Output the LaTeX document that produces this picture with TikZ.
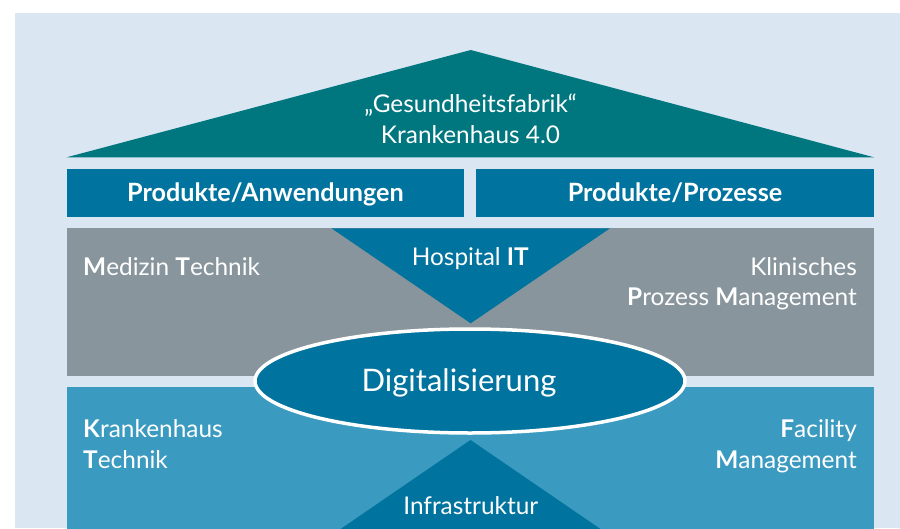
\documentclass[tikz,border=0pt]{standalone}
\usepackage{fontspec}
\setmainfont{Lato}
\usetikzlibrary{shapes.geometric}
\definecolor{bg}{HTML}{DAE7F2}
\definecolor{roof}{HTML}{00767F}
\definecolor{bar}{HTML}{00739E}
\definecolor{grey}{HTML}{88959C}
\definecolor{low}{HTML}{3A9ABF}
\begin{document}
\begin{tikzpicture}[x=1pt,y=-1pt,
  lbl/.style={text=white, inner sep=0pt, font=\fontsize{24.4}{30}\selectfont},
  barlbl/.style={text=white, inner sep=0pt, font=\fontsize{25.2}{30}\selectfont\bfseries},
  biglbl/.style={text=white, inner sep=0pt, font=\fontsize{31}{36}\selectfont}]
\useasboundingbox (0,0) rectangle (900,528);
\clip (0,0) rectangle (900,528);
\fill[bg] (15,13) rectangle (900,528);
% roof
\fill[roof] (66.7,157.3) -- (470.7,50) -- (874,157.3) -- cycle;
% bars
\fill[bar] (66.7,169) rectangle (464.3,216.7);
\fill[bar] (476.3,169) rectangle (874,216.7);
% panels
\fill[grey] (66.7,228.3) rectangle (874,375.7);
\fill[low] (66.7,387) rectangle (874,530);
% triangles
\fill[bar] (331.5,228.3) -- (610,228.3) -- (470.7,323.3) -- cycle;
\fill[bar] (470.5,440) -- (616.5,540) -- (324.5,540) -- cycle;
% ellipse
\node[ellipse, draw=white, line width=3.5pt, fill=bar, minimum width=430pt, minimum height=104pt, inner sep=0pt] (dig) at (470,381) {};
% texts
\node[lbl, anchor=base] (t1) at (470.5,112.3) {„Gesundheitsfabrik“};
\node[lbl, anchor=base] (t2) at (470.5,143.3) {Krankenhaus 4.0};
\node[barlbl, anchor=base] (b1) at (265.5,201.7) {Produkte/Anwendungen};
\node[barlbl, anchor=base] (b2) at (675,201.7) {Produkte/Prozesse};
\node[lbl, anchor=base west] (mt) at (83,275) {\textbf{M}edizin \textbf{T}echnik};
\node[lbl, anchor=base] (hit) at (470.3,265) {Hospital \textbf{IT}};
\node[lbl, anchor=base east] (kp1) at (857,275) {Klinisches};
\node[lbl, anchor=base east] (kp2) at (857,305) {\textbf{P}rozess \textbf{M}anagement};
\node[biglbl, anchor=base] (dt) at (459,391.7) {Digitalisierung};
\node[lbl, anchor=base west] (kt1) at (83,437.3) {\textbf{K}rankenhaus};
\node[lbl, anchor=base west] (kt2) at (83,468.7) {\textbf{T}echnik};
\node[lbl, anchor=base east] (fm1) at (857,437.3) {\textbf{F}acility};
\node[lbl, anchor=base east] (fm2) at (857,468.7) {\textbf{M}anagement};
\node[lbl, anchor=base] (inf) at (470.8,514.3) {Infrastruktur};
\end{tikzpicture}
\end{document}
